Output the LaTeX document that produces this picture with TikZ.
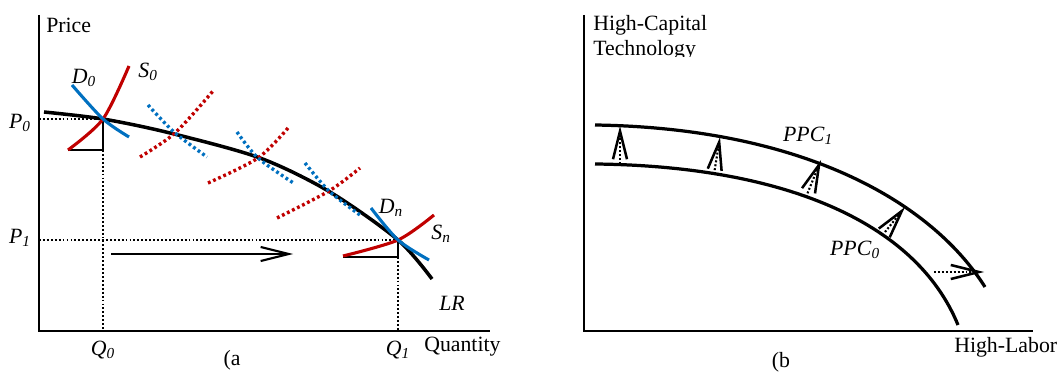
\documentclass[tikz,border=0pt]{standalone}
\usepackage{fontspec}
\setmainfont{Liberation Serif}
\usetikzlibrary{arrows.meta}
\definecolor{dblue}{HTML}{0070C0}
\definecolor{sred}{HTML}{C00000}
\newcommand{\curvelbl}[2]{\textit{#1}\textsubscript{\textit{#2}}}
\tikzset{
  lbl/.style={font=\fontsize{15.5}{18}\selectfont, inner sep=0pt},
  axis/.style={line width=1.5pt},
  guide/.style={line width=0.9pt, dash pattern=on 1.3pt off 1.5pt},
  corner/.style={line width=1pt},
  lrline/.style={line width=2.5pt},
  demand/.style={dblue, line width=2.2pt},
  supply/.style={sred, line width=2.2pt},
  demanddot/.style={dblue, line width=2.4pt, dash pattern=on 2pt off 2pt},
  supplydot/.style={sred, line width=2.4pt, dash pattern=on 2pt off 2pt},
  ppc/.style={line width=2.3pt},
  shiftarrow/.style={-{Straight Barb[length=7mm, width=3.5mm]}, line width=1.5pt},
  growarrow/.style={-{Straight Barb[length=7mm, width=3.5mm, line width=1.8pt]}, line width=1.5pt, dash pattern=on 1.4pt off 1.4pt}
}
\begin{document}
\begin{tikzpicture}[x=0.025cm, y=-0.025cm]
\useasboundingbox (0,0) rectangle (1062,372);

\draw[axis] (39,15) -- (39,331) -- (490,331);
\node[lbl, anchor=west] (price) at (46,25) {Price};
\node[lbl, anchor=west] (quantity) at (424,347) {Quantity};
\node[lbl] (capa) at (232,360) {(a};
\node[lbl] (p0) at (20,123) {\curvelbl{P}{0}};
\node[lbl] (p1) at (20,238) {\curvelbl{P}{1}};
\node[lbl] (q0) at (103,350) {\curvelbl{Q}{0}};
\node[lbl] (q1) at (398,350) {\curvelbl{Q}{1}};

\coordinate (e0) at (103,119);
\coordinate (e1) at (398,240);
\draw[guide] (39,119) -- (e0);
\draw[guide] (103,150) -- (103,331);
\draw[guide] (39,240) -- (e1);
\draw[guide] (398,257) -- (398,331);
\draw[corner] (68,150) -- (103,150) -- (e0);
\draw[corner] (343,257) -- (398,257) -- (e1);

\draw[lrline] plot[smooth] coordinates {(44,112) (e0) (170,133) (260,158) (330,192) (e1) (432,279)};
\node[lbl] (lr) at (452,303) {\textit{LR}};

\draw[supplydot] plot[smooth] coordinates {(140,157) (175,133) (213,91)};
\draw[supplydot] plot[smooth] coordinates {(208,183) (258,158) (288,128)};
\draw[supplydot] plot[smooth] coordinates {(277,218) (329,191) (360,168)};
\draw[demanddot] plot[smooth] coordinates {(148,105) (174,132) (207,157)};
\draw[demanddot] plot[smooth] coordinates {(237,132) (258,158) (295,184)};
\draw[demanddot] plot[smooth] coordinates {(305,163) (329,191) (360,215)};

\draw[supply] plot[smooth] coordinates {(68,150) (e0) (129,66)};
\draw[demand] plot[smooth] coordinates {(72,85) (e0) (129,137)};
\draw[supply] plot[smooth] coordinates {(343,256) (e1) (434,215)};
\draw[demand] plot[smooth] coordinates {(371,208) (e1) (429,260)};
\node[lbl] (d0) at (84,78) {\curvelbl{D}{0}};
\node[lbl] (s0) at (148,72) {\curvelbl{S}{0}};
\node[lbl] (dn) at (391,208) {\curvelbl{D}{n}};
\node[lbl] (sn) at (441,234) {\curvelbl{S}{n}};

\coordinate (qa) at (111,254);
\coordinate (qb) at (293,254);
\draw[shiftarrow] (qa) -- (qb);

\draw[axis] (584,15) -- (584,331) -- (1033,331);
\node[lbl, anchor=west] (capital) at (593,25) {High-Capital};
\begin{scope}
\clip (585,0) rectangle (760,57);
\node[lbl, anchor=west] (technology) at (593,50) {Technology};
\end{scope}
\node[lbl, anchor=west] (labor) at (954,347) {High-Labor};
\node[lbl] (capb) at (781,362) {(b};

\draw[ppc] (595,125) .. controls (800,128) and (930,200) .. (985,287);
\draw[ppc] (595,164) .. controls (780,166) and (915,220) .. (958,325);
\node[lbl] (ppc1) at (808,136) {\curvelbl{PPC}{1}};
\node[lbl] (ppc0) at (855,250) {\curvelbl{PPC}{0}};

\coordinate (t1) at (620,164);
\coordinate (h1) at (620,126);
\coordinate (t2) at (714,174);
\coordinate (h2) at (720,137);
\coordinate (t3) at (806,197);
\coordinate (h3) at (821,160);
\coordinate (t4) at (885,232);
\coordinate (h4) at (905,207);
\coordinate (t5) at (934,272);
\coordinate (h5) at (984,272);
\draw[growarrow] (t1) -- (h1);
\draw[growarrow] (t2) -- (h2);
\draw[growarrow] (t3) -- (h3);
\draw[growarrow] (t4) -- (h4);
\draw[growarrow] (t5) -- (h5);
\end{tikzpicture}
\end{document}
